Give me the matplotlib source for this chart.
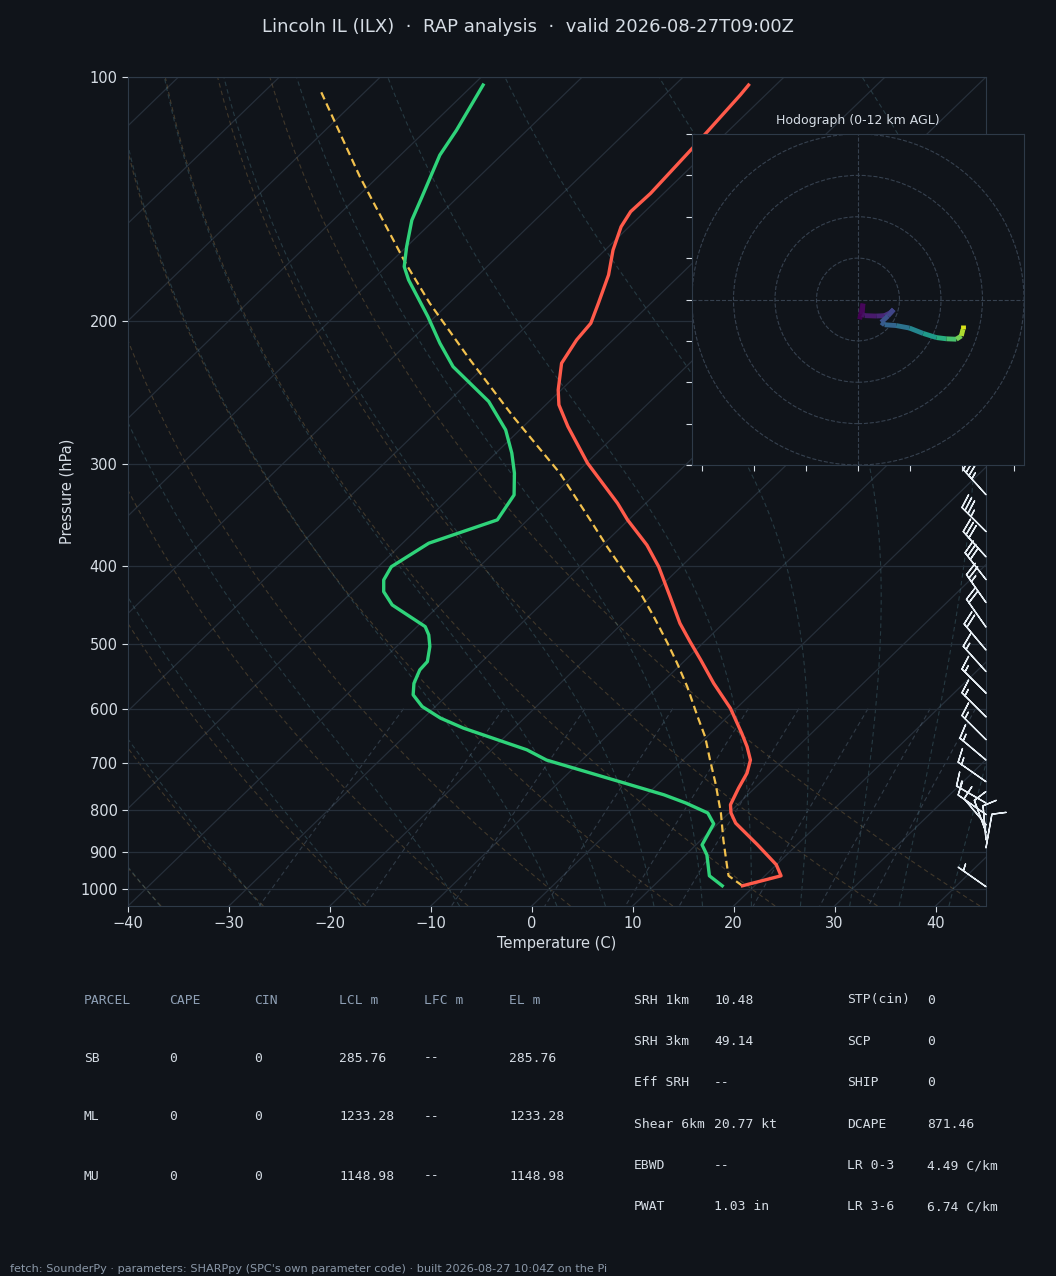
import numpy as np
import matplotlib
matplotlib.use("Agg")
import matplotlib.pyplot as plt
from matplotlib.transforms import Affine2D
from matplotlib.collections import LineCollection
from matplotlib.ticker import MultipleLocator, NullLocator, FuncFormatter

# colours
BG = "#10141a"
FG = "#d6dde5"
DIM = "#8fa0b5"
SPINE = "#2e3a48"
GRID = "#262f3a"

# ---- sounding ----
p_temp = [991.5, 963.8, 934.1, 882.8, 830.0, 806.5, 787.8, 751.6, 720.3, 694.1, 668.3,
          643.4, 599.2, 558.4, 522.4, 496.3, 471.0, 436.8, 401.2, 377.2, 351.2, 335.0,
          298.9, 269.4, 253.4, 242.9, 225.2, 210.8, 201.1, 190.0, 175.3, 163.4, 152.9,
          146.5, 139.1, 121.8, 105.2, 102.3]
t_temp = [18.8, 21.6, 20.0, 16.1, 11.7, 10.2, 9.3, 8.4, 7.7, 6.7, 5.0,
          3.1, -0.6, -4.8, -8.5, -11.4, -14.3, -18.0, -22.2, -25.6, -30.1, -32.8,
          -39.9, -45.6, -48.7, -50.3, -52.7, -53.6, -53.9, -55.2, -57.1, -59.2, -60.8,
          -61.4, -61.3, -61.8, -62.5, -62.7]

p_dew = [991.5, 963.8, 908.1, 882.8, 831.7, 806.5, 784.0, 766.0, 734.3, 694.1, 674.2,
         634.0, 616.3, 596.4, 576.9, 558.4, 537.5, 525.0, 503.0, 486.7, 475.4, 447.0,
         430.5, 416.4, 401.1, 375.2, 351.2, 327.2, 307.6, 290.7, 272.1, 251.0, 227.4,
         212.8, 197.4, 177.8, 171.2, 161.8, 150.1, 140.4, 124.8, 116.3, 102.3]
t_dew = [16.8, 14.5, 12.1, 10.6, 9.6, 7.9, 4.7, 1.7, -4.8, -13.5, -16.5,
         -25.0, -28.3, -31.3, -33.4, -34.5, -35.3, -35.4, -36.7, -38.0, -39.2, -44.7,
         -46.9, -48.1, -48.7, -47.4, -43.0, -43.9, -46.1, -48.4, -51.4, -56.0, -63.1,
         -66.8, -70.7, -76.4, -78.2, -80.0, -82.2, -83.6, -86.1, -87.0, -89.0]

p_parcel = [991.5, 963.8, 938.7, 870.4, 806.5, 741.0, 694.1, 649.4, 613.5, 563.5, 527.3,
            498.2, 461.9, 432.4, 404.8, 378.8, 351.2, 307.6, 262.1, 223.1, 190.0, 169.6,
            132.7, 103.8]
t_parcel = [18.8, 16.4, 15.3, 12.2, 9.2, 5.6, 2.7, -0.2, -3.0, -7.1, -10.5,
            -13.5, -17.6, -21.3, -25.4, -29.4, -33.8, -41.6, -52.0, -62.1, -71.9, -78.4,
            -91.8, -104.6]

# wind barbs (kt, direction from)
barb_p = [327, 363, 390, 416, 444, 476, 508, 540, 574, 614, 655, 694, 738, 784,
          810, 834, 852, 870, 890, 994]
barb_spd = [35, 35, 30, 30, 25, 20, 20, 15, 15, 15, 15, 15, 15, 15,
            10, 10, 10, 10, 10, 5]
barb_dir = [318, 315, 318, 322, 325, 325, 320, 318, 315, 315, 315, 310, 305, 300,
            305, 320, 340, 355, 10, 305]

# hodograph
hodo_u = [0.4, 1.2, 1.0, 1.6, 4.4, 6.4, 7.8, 8.6, 7.2, 5.6, 6.4, 9.2, 12.4, 15.7,
          18.9, 21.3, 23.7, 24.9, 25.3, 25.3]
hodo_v = [-4.8, -1.0, -3.6, -3.9, -4.0, -3.9, -3.2, -2.4, -4.0, -5.5, -6.1, -6.3, -6.9, -8.2,
          -9.2, -9.5, -9.6, -8.8, -7.2, -6.1]
hodo_z = [0.0, 0.2, 0.5, 0.8, 1.2, 1.6, 2.0, 2.5, 3.0, 3.4, 3.8, 4.5, 5.5, 6.5,
          7.5, 8.5, 9.5, 10.5, 11.3, 12.0]

# parameter tables
parcel_cols = ["PARCEL", "CAPE", "CIN", "LCL m", "LFC m", "EL m"]
parcel_names = ["SB", "ML", "MU"]
parcel_cape = ["0", "0", "0"]
parcel_cin = ["0", "0", "0"]
parcel_lcl = ["285.76", "1233.28", "1148.98"]
parcel_lfc = ["--", "--", "--"]
parcel_el = ["285.76", "1233.28", "1148.98"]

kin_names = ["SRH 1km", "SRH 3km", "Eff SRH", "Shear 6km", "EBWD", "PWAT"]
kin_vals = ["10.48", "49.14", "--", "20.77 kt", "--", "1.03 in"]
comp_names = ["STP(cin)", "SCP", "SHIP", "DCAPE", "LR 0-3", "LR 3-6"]
comp_vals = ["0", "0", "0", "871.46", "4.49 C/km", "6.74 C/km"]


# background lines for the skew-T
def dtdp_moist(p, t):
    es = 6.112 * np.exp(17.67 * (t - 273.15) / (t - 29.65))
    rs = 0.622 * es / (p - es)
    num = 287.04 * t + 2.501e6 * rs
    den = 1005.7 + (2.501e6 ** 2) * rs * 0.622 / (287.04 * t ** 2)
    return num / den / p


def moist_adiabats(t0):
    t0 = np.asarray(t0, float) + 273.15

    def run(grid):
        T = t0.copy()
        res = [T.copy()]
        for pa, pb in zip(grid[:-1], grid[1:]):
            h = pb - pa
            k1 = dtdp_moist(pa, T)
            k2 = dtdp_moist(pa + h / 2, T + h / 2 * k1)
            k3 = dtdp_moist(pa + h / 2, T + h / 2 * k2)
            k4 = dtdp_moist(pb, T + h * k3)
            T = T + h / 6 * (k1 + 2 * k2 + 2 * k3 + k4)
            res.append(T.copy())
        return np.array(res)

    p_up = np.linspace(1000, 100, 181)
    p_dn = np.linspace(1000, 1050, 11)
    up = run(p_up)
    dn = run(p_dn)
    p = np.concatenate([p_dn[::-1], p_up[1:]])
    T = np.concatenate([dn[::-1], up[1:]])
    return p, T - 273.15


fig = plt.figure(figsize=(10.56, 12.76), dpi=100, facecolor=BG)
W, H = 1056, 1276

ax = fig.add_axes([128 / W, (H - 906) / H, 858 / W, 829 / H], facecolor=BG)
ax.set_yscale("log")
ax.set_ylim(1050, 100)
ax.set_xlim(-40, 45)
skew = ax.transScale + (ax.transLimits + Affine2D().skew_deg(45, 0)) + ax.transAxes

# isotherms
for t in range(-130, 50, 10):
    ax.plot([t, t], [1050, 100], color=GRID, lw=0.9, transform=skew, zorder=1)

# dry adiabats
pp = np.linspace(1050, 100, 120)
for t0 in range(-40, 41, 10):
    tt = (t0 + 273.15) * (pp / 1000.0) ** 0.2857 - 273.15
    ax.plot(tt, pp, color="#b08a50", alpha=0.3, lw=0.8, ls=(0, (4, 3)), transform=skew, zorder=1)

# moist adiabats
mp, mt = moist_adiabats(np.concatenate((np.arange(-40, 0, 10), np.arange(0, 46, 5))))
for i in range(mt.shape[1]):
    ax.plot(mt[:, i], mp, color="#4f7f8c", alpha=0.35, lw=0.8, ls=(0, (4, 3)), transform=skew, zorder=1)

# mixing ratio lines
wp = np.linspace(600, 1050, 40)
for w in [0.0004, 0.001, 0.002, 0.004, 0.007, 0.01, 0.016, 0.024, 0.032]:
    e = wp * w / (0.622 + w)
    lg = np.log(e / 6.112)
    td = 243.5 * lg / (17.67 - lg)
    ax.plot(td, wp, color="#5f7488", alpha=0.4, lw=0.8, ls=(0, (4, 3)), transform=skew, zorder=1)

# profiles
ax.plot(t_parcel, p_parcel, color="#f2c14e", lw=1.6, ls=(0, (3.5, 2)), transform=skew, zorder=4)
ax.plot(t_temp, p_temp, color="#ff5a4a", lw=2.4, transform=skew, zorder=5)
ax.plot(t_dew, p_dew, color="#2fd37a", lw=2.4, transform=skew, zorder=5)

# wind barbs on the right edge
bd = np.deg2rad(barb_dir)
bu = -np.array(barb_spd) * np.sin(bd)
bv = -np.array(barb_spd) * np.cos(bd)
ax.barbs(np.ones(len(barb_p)), barb_p, bu, bv, transform=ax.get_yaxis_transform(),
         clip_on=False, color="#e6edf3", linewidth=1.0, length=7, zorder=6)

ax.set_ylim(1050, 100)
ax.set_xlim(-40, 45)
ax.set_xticks(range(-40, 41, 10))
ax.yaxis.set_major_locator(MultipleLocator(100))
ax.yaxis.set_major_formatter(FuncFormatter(lambda v, pos: "%d" % v))
ax.yaxis.set_minor_locator(NullLocator())
ax.yaxis.grid(True, color=GRID, lw=0.9)
ax.tick_params(colors=FG, labelsize=10.5, length=4)
for s in ax.spines.values():
    s.set_color(SPINE)
ax.set_xlabel("Temperature (C)", color=FG, fontsize=10.5, labelpad=3)
ax.set_ylabel("Pressure (hPa)", color=FG, fontsize=10.5)

# hodograph inset
hx = fig.add_axes([692 / W, (H - 465) / H, 332 / W, 331 / H], facecolor=BG)
hx.set_xlim(-40, 40)
hx.set_ylim(-40, 40)
for r in range(10, 41, 10):
    hx.add_patch(plt.Circle((0, 0), r, fill=False, ec="#36414f", lw=0.8, ls="--"))
hx.axhline(0, color="#36414f", lw=0.8, ls="--")
hx.axvline(0, color="#36414f", lw=0.8, ls="--")
pts = np.column_stack([hodo_u, hodo_v])
segs = np.stack([pts[:-1], pts[1:]], axis=1)
lc = LineCollection(segs, cmap="viridis", norm=plt.Normalize(0, 12), linewidths=3.5)
lc.set_array(np.array(hodo_z[:-1]))
hx.add_collection(lc)
hx.set_xticks(np.arange(-37.5, 38, 12.5))
hx.set_yticks(np.arange(-40, 41, 10))
hx.tick_params(colors=FG, labelleft=False, labelbottom=False, length=4)
for s in hx.spines.values():
    s.set_color(SPINE)
hx.set_title("Hodograph (0-12 km AGL)", color=FG, fontsize=9, pad=7)

# title
fig.text(0.5, 1 - 27 / H, "Lincoln IL (ILX)  \u00b7  RAP analysis  \u00b7  valid 2026-08-27T09:00Z",
         color=FG, fontsize=13, ha="center", va="center")

# parcel table
mono = dict(family="DejaVu Sans Mono", fontsize=9.4, va="center")
cols = [parcel_names, parcel_cape, parcel_cin, parcel_lcl, parcel_lfc, parcel_el]
for j, head in enumerate(parcel_cols):
    x = (84 + 85 * j) / W
    fig.text(x, 1 - 1000 / H, head, color=DIM, **mono)
    for i, val in enumerate(cols[j]):
        fig.text(x, 1 - (1058 + 59 * i) / H, val, color=FG, **mono)

# kinematic / composite table
for i in range(len(kin_names)):
    y = 1 - (1000 + 41.4 * i) / H
    fig.text(634 / W, y, kin_names[i], color=FG, **mono)
    fig.text(714 / W, y, kin_vals[i], color=FG, **mono)
    fig.text(847 / W, y, comp_names[i], color=FG, **mono)
    fig.text(927 / W, y, comp_vals[i], color=FG, **mono)

fig.text(10 / W, 1 - 1269 / H,
         "fetch: SounderPy \u00b7 parameters: SHARPpy (SPC's own parameter code) \u00b7 built 2026-08-27 10:04Z on the Pi",
         color="#8b98a8", fontsize=8.15, va="center")

fig.savefig("out.png", dpi=100, facecolor=BG)
